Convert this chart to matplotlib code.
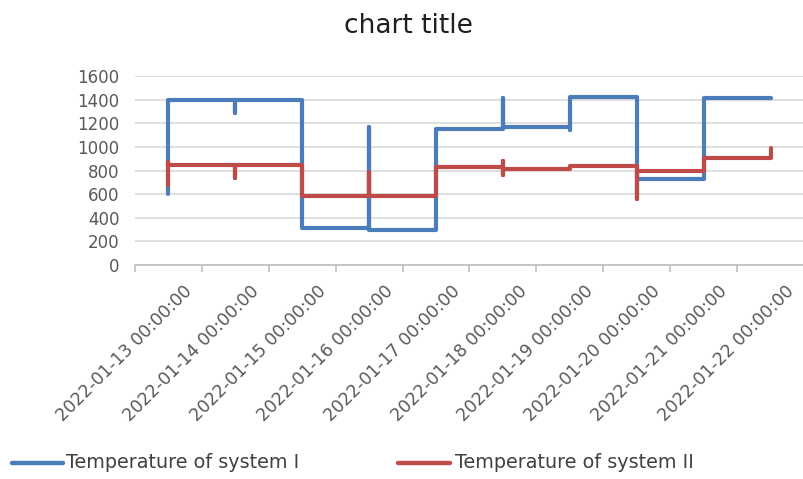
import matplotlib
matplotlib.use("Agg")
import matplotlib.pyplot as plt
import matplotlib.transforms as mtransforms
from matplotlib.lines import Line2D

# Daily readings; each day lists the values recorded in order through that day
dates = ["2022-01-13 00:00:00", "2022-01-14 00:00:00", "2022-01-15 00:00:00",
         "2022-01-16 00:00:00", "2022-01-17 00:00:00", "2022-01-18 00:00:00",
         "2022-01-19 00:00:00", "2022-01-20 00:00:00", "2022-01-21 00:00:00",
         "2022-01-22 00:00:00"]

system1_readings = [
    [600, 1400],
    [1290, 1400],
    [310],
    [1170, 300],
    [1150],
    [1410, 1170],
    [1140, 1420],
    [730],
    [1410],
    [1410],
]

system2_readings = [
    [680, 870, 850],
    [740, 850],
    [580],
    [790, 580],
    [830],
    [880, 760, 810],
    [840],
    [560, 800],
    [910],
    [990],
]

series_names = ["Temperature of system I", "Temperature of system II"]
series_colors = ["#4A7DBA", "#BE4B48"]

y_ticks = [0, 200, 400, 600, 800, 1000, 1200, 1400, 1600]


def flatten(readings):
    xs, ys = [], []
    for day, vals in enumerate(readings):
        for v in vals:
            xs.append(day)
            ys.append(v)
    return xs, ys


W, H = 804, 479
fig = plt.figure(figsize=(W / 100, H / 100), dpi=100)
fig.patch.set_facecolor("white")

ax = fig.add_axes([135 / W, 1 - 265 / H, 669 / W, (265 - 76) / H])

for readings, color in zip([system1_readings, system2_readings], series_colors):
    xs, ys = flatten(readings)
    ax.plot(xs, ys, drawstyle="steps-post", color=color, lw=3.0,
            solid_capstyle="round", solid_joinstyle="round", zorder=3)

ax.set_xlim(-0.5, len(dates) - 0.5)
ax.set_ylim(0, 1600)

# gridlines
ax.set_yticks(y_ticks)
ax.yaxis.grid(True, color="#D9D9D9", lw=1.2)
ax.set_axisbelow(True)
ax.tick_params(axis="y", length=0, pad=11, labelsize=12, labelcolor="#595959")

for s in ["left", "right", "top"]:
    ax.spines[s].set_visible(False)
ax.spines["bottom"].set_color("#BFBFBF")
ax.spines["bottom"].set_linewidth(1.2)

# category axis: labels at centres, tick marks at boundaries
ax.set_xticks(range(len(dates)))
ax.set_xticklabels(dates, rotation=45, ha="right", va="center",
                   rotation_mode="anchor")
ax.set_xticks([i - 0.5 for i in range(len(dates) + 1)], minor=True)
ax.tick_params(axis="x", which="major", length=0, pad=17, labelsize=12.5,
               labelcolor="#595959")
ax.tick_params(axis="x", which="minor", length=5, width=1.2, color="#BFBFBF",
               direction="out")
shift = mtransforms.ScaledTranslation(0.21, 0, fig.dpi_scale_trans)
for lab in ax.get_xticklabels():
    lab.set_transform(lab.get_transform() + shift)

fig.text(408 / W, 1 - 33 / H, "chart title", ha="center", va="baseline",
         fontsize=19, color="#1F1F1F")

# legend row beneath the axis labels
legend_y = 1 - 463 / H
handle_spans = [(12, 63), (398, 450)]
text_x = [66, 455]
for (x0, x1), tx, name, color in zip(handle_spans, text_x, series_names, series_colors):
    fig.add_artist(Line2D([x0 / W, x1 / W], [legend_y, legend_y], color=color,
                          lw=3.2, solid_capstyle="round", transform=fig.transFigure))
    fig.text(tx / W, legend_y, name, ha="left", va="center", fontsize=13.8,
             color="#404040")

fig.savefig("out.png", dpi=100, facecolor="white")
